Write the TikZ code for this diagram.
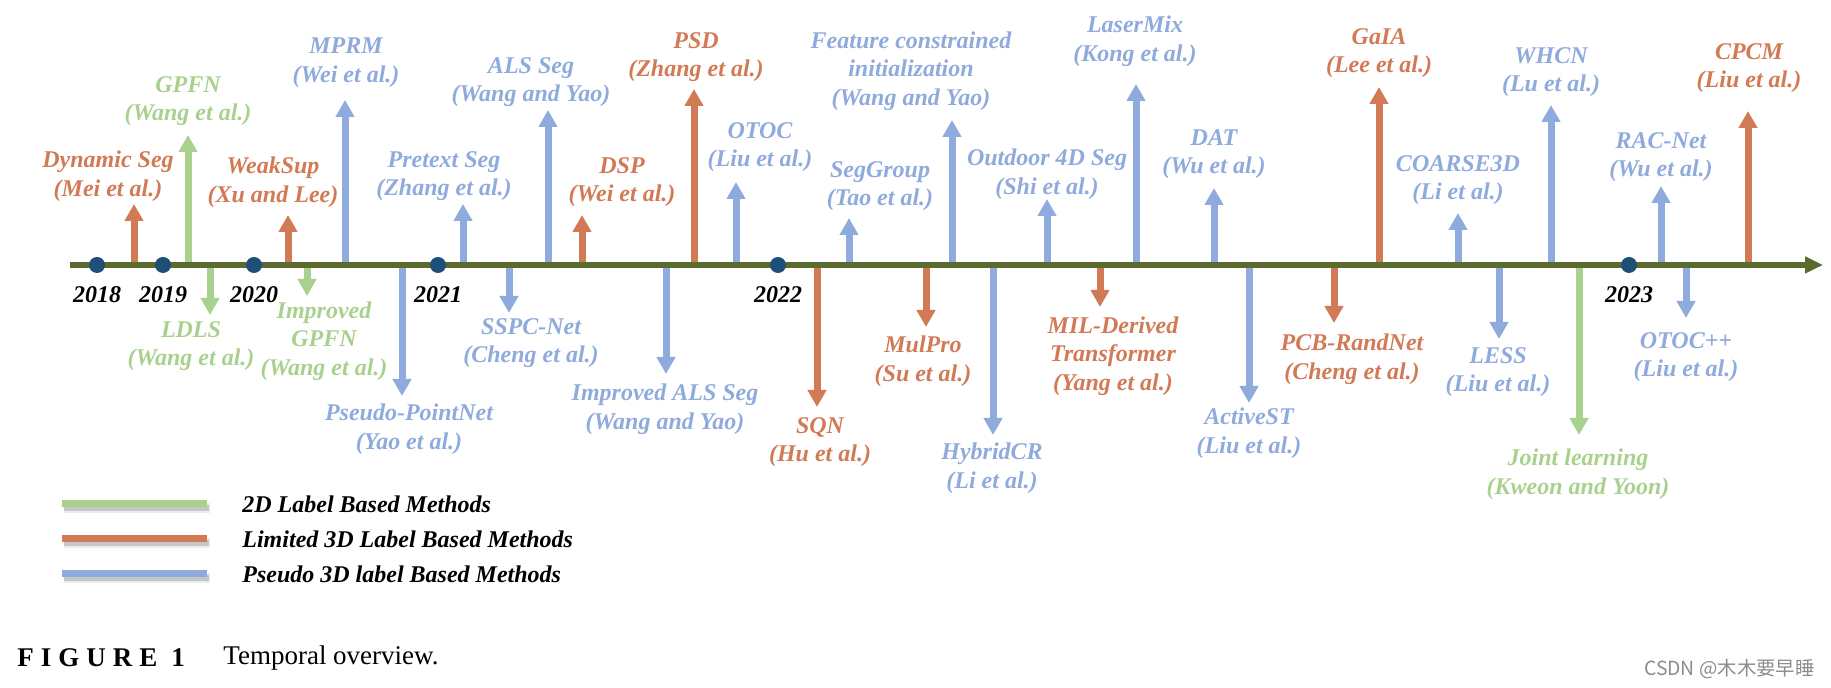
\documentclass[tikz,border=0pt]{standalone}
\usepackage{fontspec}
\setmainfont{Liberation Serif}
\newfontfamily\cjkfont{Noto Sans CJK SC}
\usetikzlibrary{arrows.meta}
\definecolor{green2d}{HTML}{A9D18E}
\definecolor{limit3d}{HTML}{D27A55}
\definecolor{pseudo3d}{HTML}{8FAADC}
\definecolor{axisolive}{HTML}{5B6A2F}
\definecolor{dotblue}{HTML}{1F4E79}

\begin{document}
\begin{tikzpicture}[x=0.5pt, y=-0.5pt,
  meth/.style={line width=3.5pt, -{Triangle[width=9pt, length=8.5pt]}},
  lab/.style={font=\fontsize{12pt}{14.3pt}\selectfont\bfseries\itshape,
              align=center, inner sep=0pt},
  yearlab/.style={lab, text=black},
  yeardot/.style={circle, fill=dotblue, minimum size=8pt, inner sep=0pt},
  legtext/.style={font=\fontsize{12pt}{14pt}\selectfont\bfseries\itshape,
                  anchor=west, inner sep=0pt},
  capt/.style={font=\fontsize{13.5pt}{16pt}\selectfont,
               anchor=west, inner sep=0pt}]
\useasboundingbox (0,0) rectangle (1831,688);
\foreach \n/\x/\y/\col in {1/134/204/limit3d, 2/188/135/green2d, 3/288/215/limit3d,
    4/345/100/pseudo3d, 5/463/204/pseudo3d, 6/548/110/pseudo3d, 7/582/215/limit3d,
    8/694/89/limit3d, 9/736/182/pseudo3d, 10/849/218/pseudo3d, 11/952/120/pseudo3d,
    12/1047/199/pseudo3d, 13/1136/84/pseudo3d, 14/1214/188/pseudo3d, 15/1379/87/limit3d,
    16/1458/213/pseudo3d, 17/1551/105/pseudo3d, 18/1661/186/pseudo3d, 19/1748/111/limit3d,
    20/210/315/green2d, 21/307/296/green2d, 22/402/396/pseudo3d, 23/509/313/pseudo3d,
    24/666/374/pseudo3d, 25/817/407/limit3d, 26/926/327/limit3d, 27/993/435/pseudo3d,
    28/1100/307/limit3d, 29/1249/403/pseudo3d, 30/1334/323/limit3d, 31/1499/339/pseudo3d,
    32/1579/435/green2d, 33/1686/318/pseudo3d} {
  \coordinate (m\n) at (\x,265);
  \coordinate (t\n) at (\x,\y);
  \draw[meth, \col] (m\n) -- (t\n);
}
\coordinate (start) at (70,265);
\coordinate (end) at (1823,265);
\draw[axisolive, line width=3pt, -{Triangle[width=8pt, length=9pt]}] (start) -- (end);
\foreach \yr/\x in {2018/97, 2019/163, 2020/254, 2021/438, 2022/778, 2023/1629} {
  \node[yeardot] (d\yr) at (\x,265) {};
  \node[yearlab] (y\yr) at (\x,295) {\yr};
}
\foreach \n/\x/\y/\col/\txt in {1/108/176/limit3d/{Dynamic Seg\\(Mei et al.)},
    2/188/101/green2d/{GPFN\\(Wang et al.)},
    3/273/182/limit3d/{WeakSup\\(Xu and Lee)},
    4/346/63/pseudo3d/{MPRM\\(Wei et al.)},
    5/444/176/pseudo3d/{Pretext Seg\\(Zhang et al.)},
    6/531/82/pseudo3d/{ALS Seg\\(Wang and Yao)},
    7/622/182/limit3d/{DSP\\(Wei et al.)},
    8/696/57/limit3d/{PSD\\(Zhang et al.)},
    9/760/147/pseudo3d/{OTOC\\(Liu et al.)},
    10/880/186/pseudo3d/{SegGroup\\(Tao et al.)},
    11/911/71/pseudo3d/{Feature constrained\\initialization\\(Wang and Yao)},
    12/1047/174/pseudo3d/{Outdoor 4D Seg\\(Shi et al.)},
    13/1135/41/pseudo3d/{LaserMix\\(Kong et al.)},
    14/1214/154/pseudo3d/{DAT\\(Wu et al.)},
    15/1379/53/limit3d/{GaIA\\(Lee et al.)},
    16/1458/180/pseudo3d/{COARSE3D\\(Li et al.)},
    17/1551/72/pseudo3d/{WHCN\\(Lu et al.)},
    18/1661/157/pseudo3d/{RAC-Net\\(Wu et al.)},
    19/1749/68/limit3d/{CPCM\\(Liu et al.)},
    20/191/346/green2d/{LDLS\\(Wang et al.)},
    21/324/341/green2d/{Improved\\GPFN\\(Wang et al.)},
    22/409/429/pseudo3d/{Pseudo-PointNet\\(Yao et al.)},
    23/531/343/pseudo3d/{SSPC-Net\\(Cheng et al.)},
    24/665/409/pseudo3d/{Improved ALS Seg\\(Wang and Yao)},
    25/820/442/limit3d/{SQN\\(Hu et al.)},
    26/923/361/limit3d/{MulPro\\(Su et al.)},
    27/992/468/pseudo3d/{HybridCR\\(Li et al.)},
    28/1113/356/limit3d/{MIL-Derived\\Transformer\\(Yang et al.)},
    29/1249/433/pseudo3d/{ActiveST\\(Liu et al.)},
    30/1352/359/limit3d/{PCB-RandNet\\(Cheng et al.)},
    31/1498/372/pseudo3d/{LESS\\(Liu et al.)},
    32/1578/474/green2d/{Joint learning\\(Kweon and Yoon)},
    33/1686/357/pseudo3d/{OTOC++\\(Liu et al.)}}
  \node[lab, text=\col] (l\n) at (\x,\y) {\txt};
\foreach \i/\y/\col/\txt in {1/504/green2d/2D Label Based Methods,
    2/539/limit3d/Limited 3D Label Based Methods,
    3/574/pseudo3d/Pseudo 3D label Based Methods} {
  \draw[line width=5pt, black!30, opacity=0.25] (64,\y+4) -- (210,\y+4);
  \draw[line width=3pt, black!50, opacity=0.35] (64,\y+4) -- (209,\y+4);
  \draw[line width=3.5pt, \col] (62,\y) -- (207,\y);
  \node[legtext] (k\i) at (242,\y) {\txt};
}
\node[capt] (fig) at (17,658)
  {\bfseries F\kern3.5pt I\kern3.5pt G\kern3.5pt U\kern3.5pt R\kern3.5pt E\kern7pt 1};
\node[capt] (cap) at (223,658) {Temporal overview.};
\node[anchor=east, font=\fontsize{9.7pt}{11pt}\selectfont\cjkfont, text=black!45,
      inner sep=0pt] (wm) at (1815,669) {CSDN @木木要早睡};
\end{tikzpicture}
\end{document}
